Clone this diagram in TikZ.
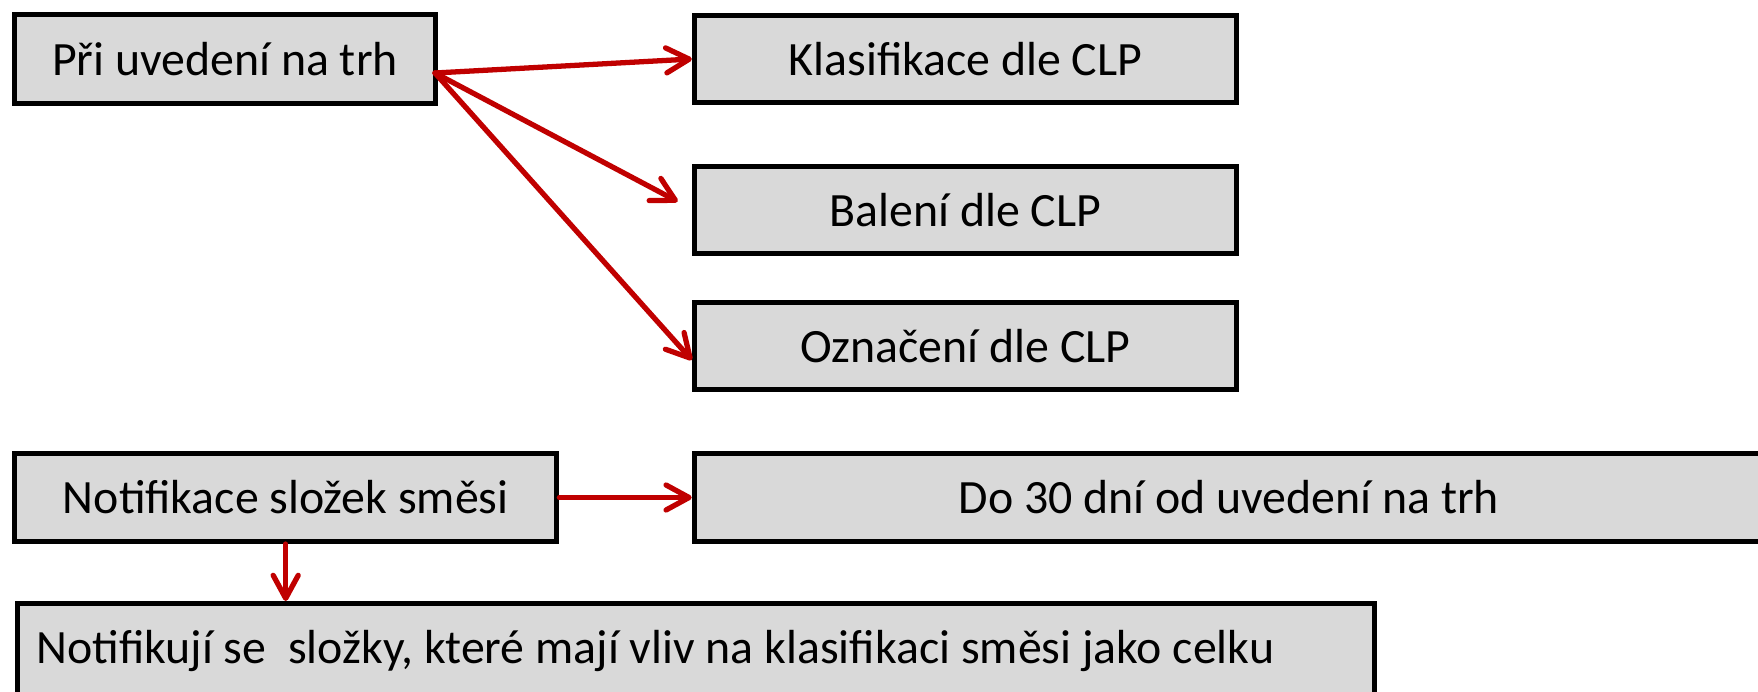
\documentclass[tikz,border=0pt]{standalone}
\usepackage{fontspec}
\setmainfont{Carlito}
\usetikzlibrary{arrows.meta,positioning}
\definecolor{ink}{HTML}{000000}
\definecolor{boxgray}{HTML}{D9D9D9}
\definecolor{flow}{HTML}{C00000}

\begin{document}
\begin{tikzpicture}[x=0.01cm,y=-0.01cm,font=\fontsize{13.6}{16}\selectfont,
 box/.style={draw=ink,line width=1.42pt,fill=boxgray,inner sep=0pt,minimum height=0.87cm},
 link/.style={draw=flow,line width=1.5pt,line cap=round,-{Straight Barb[length=2.3mm,width=2.5mm,line width=1.5pt,round]}}]
\clip (0,0) rectangle (1758,691);
% 1: on placing on the market
\node[box,minimum width=4.2cm,minimum height=0.88cm] (pri) at (225,59) {Při uvedení na trh};
\node[box,minimum width=5.42cm] (klas) at (965.5,59) {Klasifikace dle CLP};
\node[box,minimum width=5.42cm] (bal) at (965.5,210) {Balení dle CLP};
\node[box,minimum width=5.42cm] (ozn) at (965.5,346) {Označení dle CLP};
\coordinate (src) at (435,73);
\draw[link] (src) -- (klas.west);
\draw[link,shorten >=0.16cm] (src) -- ([yshift=0.01cm]bal.west);
\draw[link] (src) -- ([yshift=-0.14cm]ozn.west);
% 2: notification of components
\node[box,minimum width=5.42cm,minimum height=0.88cm] (notif) at (285.7,497.5) {Notifikace složek směsi};
\node[box,minimum width=10.69cm] (lhuta) at (1229,497.5) {Do 30 dní od uvedení na trh};
\node[box,anchor=west,text width=13.18cm,inner xsep=0.19cm,align=flush left,minimum height=0.94cm] (slozky) at (15,650.5) {Notifikují se\ \ složky, které mají vliv na klasifikaci směsi jako celku};
\draw[link] (notif.east) -- (lhuta.west);
\draw[link] (notif.south) -- (notif.south |- slozky.north);
\end{tikzpicture}
\end{document}
